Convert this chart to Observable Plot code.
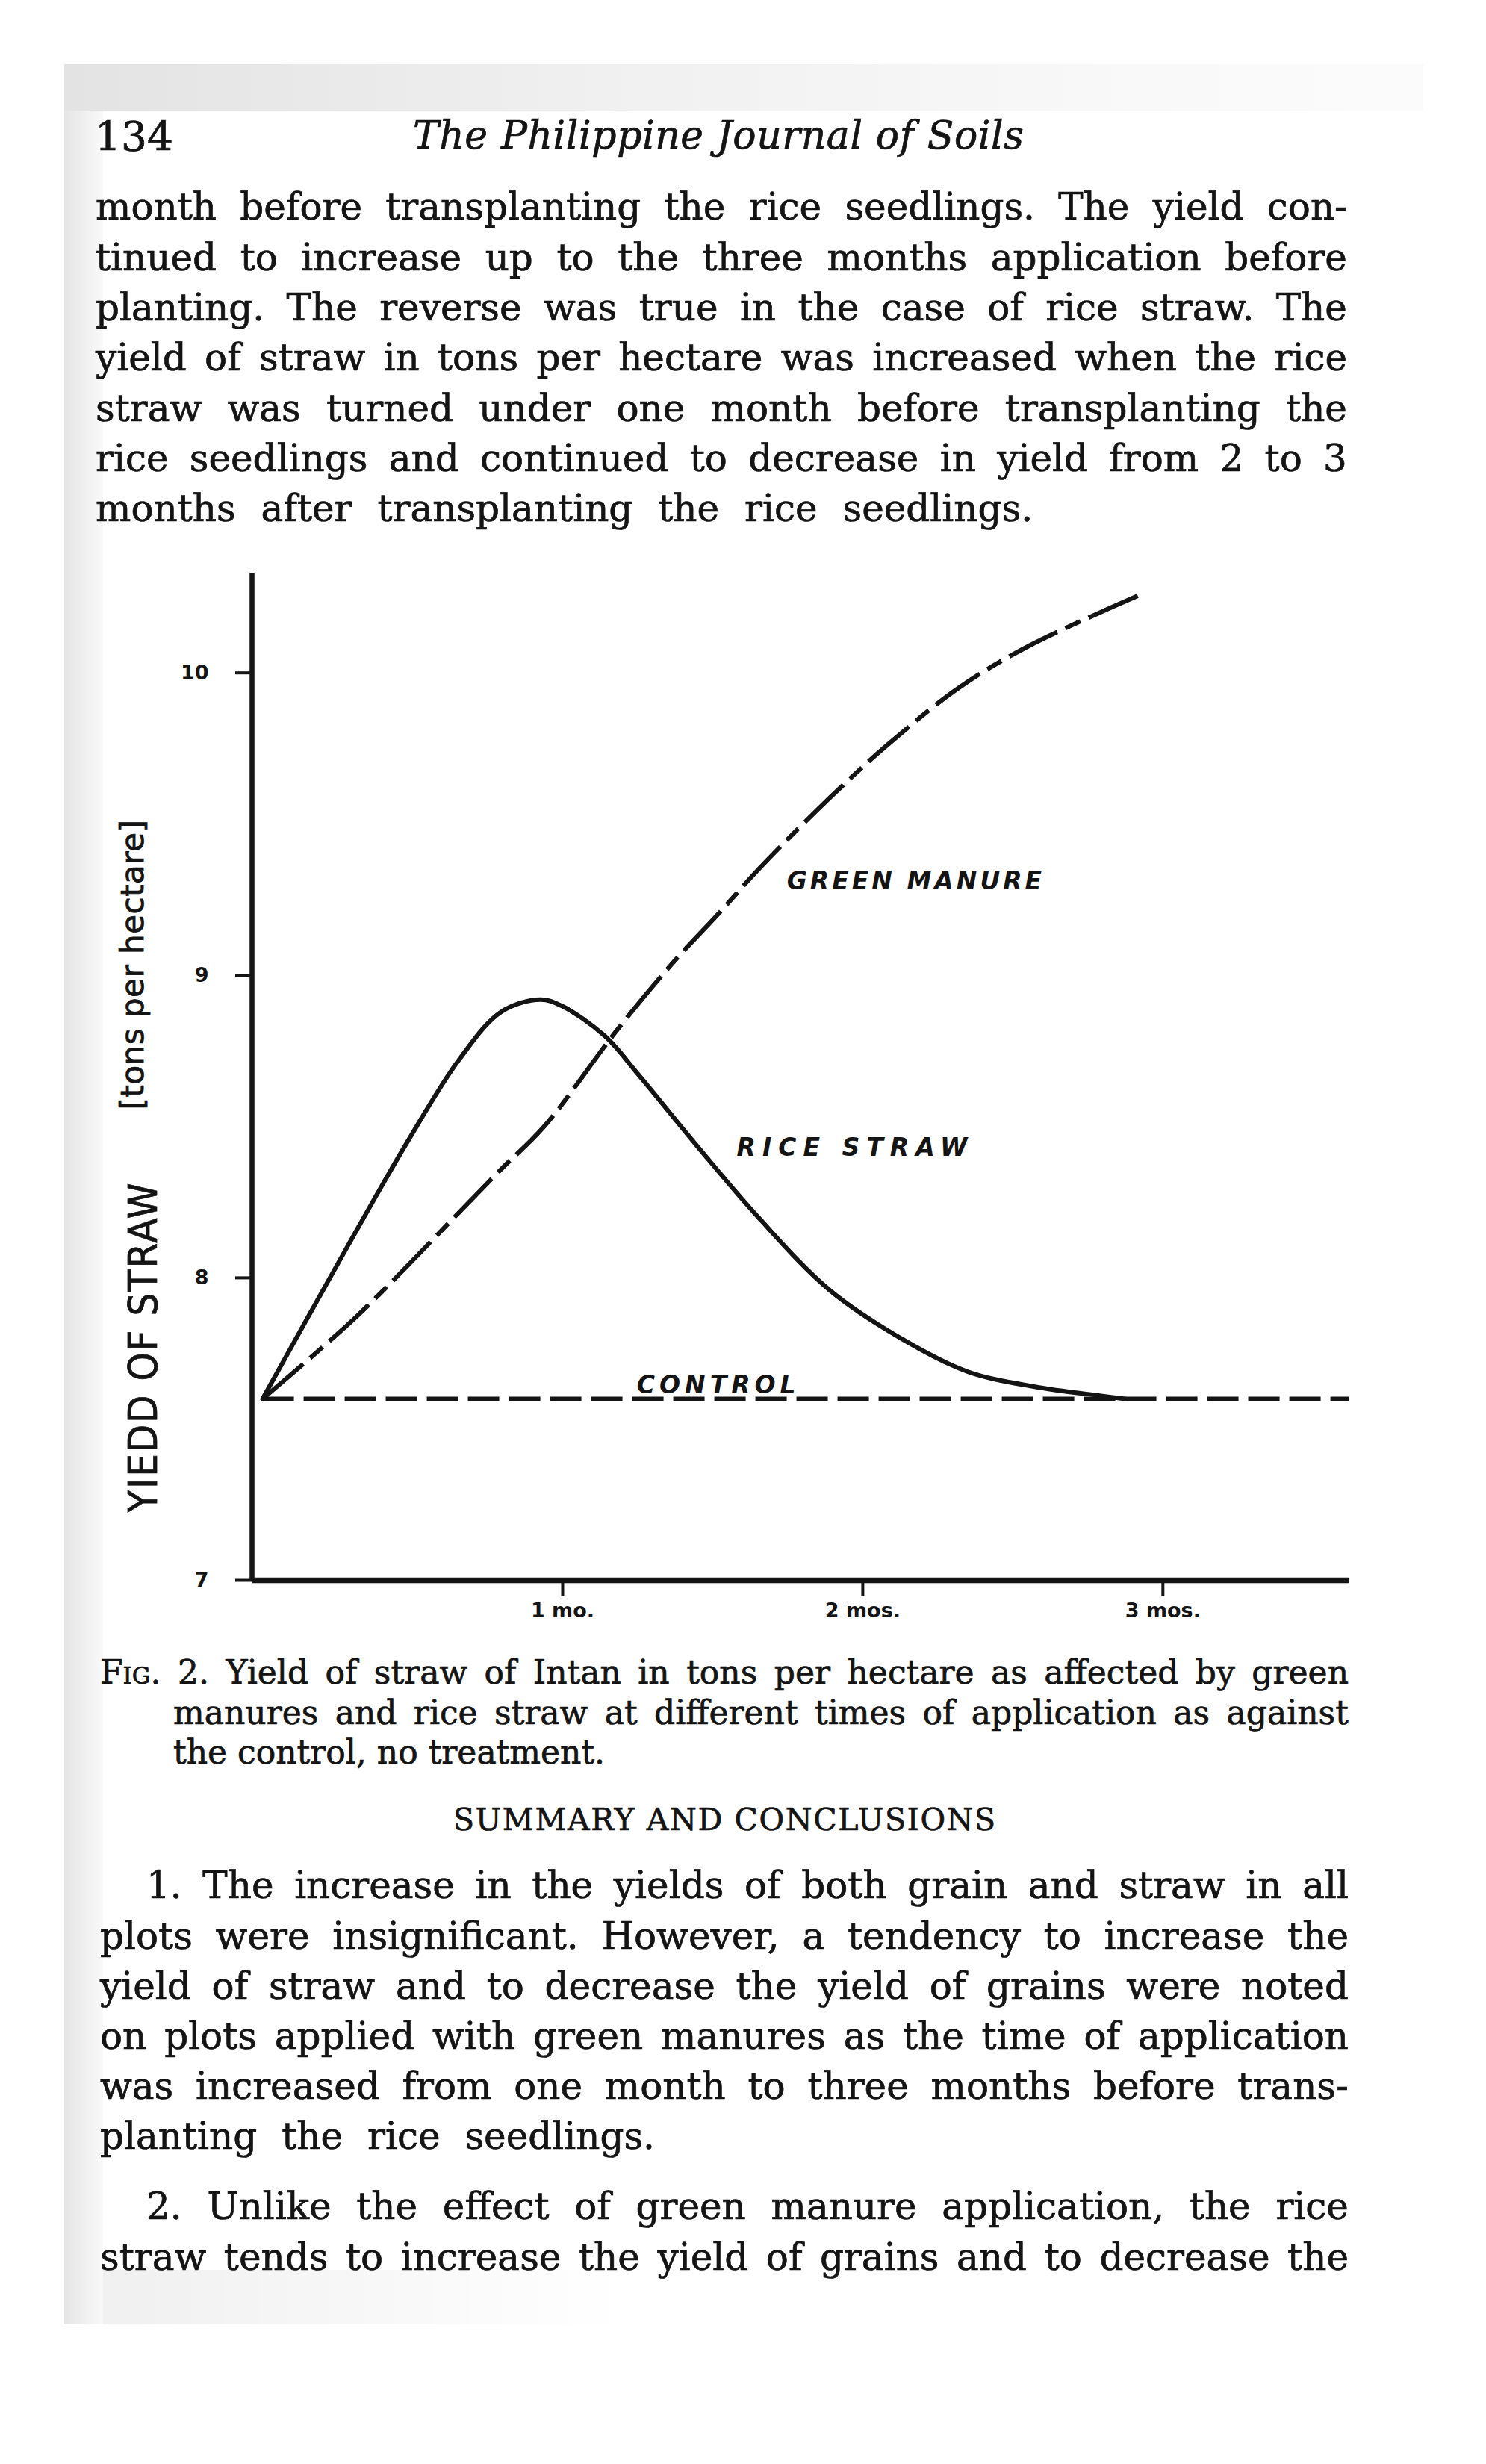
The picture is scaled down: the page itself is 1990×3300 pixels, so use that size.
<!DOCTYPE html>
<html>
<head>
<meta charset="utf-8">
<script src="https://cdn.jsdelivr.net/npm/d3@7"></script>
<script src="https://cdn.jsdelivr.net/npm/@observablehq/plot@0.6"></script>
<style>
  html, body { margin: 0; padding: 0; background: #ffffff; }
  body { width: 1990px; height: 3300px; position: relative; overflow: hidden;
         font-family: "DejaVu Serif", "Liberation Serif", serif; color: #141414; }
  .tone { position: absolute; pointer-events: none; }
  .ln { position: absolute; white-space: pre; -webkit-text-stroke: 0.7px #141414; }
  .sc { font-variant: small-caps; }
  .rot { position: absolute; text-align: center; white-space: pre;
         font-family: "DejaVu Sans", sans-serif; color: #141414; transform-origin: 50% 50%;
         -webkit-text-stroke: 0.8px #141414; }
  #chart { position: absolute; left: 0; top: 700px; }
</style>
</head>
<body>
<div class="tone" style="left:86px;top:86px;width:1820px;height:62px;background:linear-gradient(to right, rgba(0,0,0,0.11), rgba(0,0,0,0.06) 40%, rgba(0,0,0,0.025) 80%, rgba(0,0,0,0.015));"></div>
<div class="tone" style="left:86px;top:148px;width:52px;height:2965px;background:linear-gradient(to right, rgba(0,0,0,0.10), rgba(0,0,0,0.025));"></div>
<div class="tone" style="left:138px;top:3040px;width:700px;height:73px;background:linear-gradient(to right, rgba(0,0,0,0.06), rgba(0,0,0,0.0));"></div>

<div class="ln" style="left:127px;top:150px;font-size:55px;line-height:66px;">134</div>
<div class="ln" style="left:553px;top:148px;font-size:52px;line-height:66px;font-style:italic;letter-spacing:0.6px;">The Philippine Journal of Soils</div>
<div class="rot" id="ylab" style="left:-68px;top:1774px;width:520px;height:60px;line-height:60px;font-size:54px;transform:rotate(-90deg) scaleX(0.9);letter-spacing:2px;">YIEDD OF STRAW</div>
<div class="rot" id="ysub" style="left:-72px;top:1266px;width:500px;height:52px;line-height:52px;font-size:42px;transform:rotate(-90deg);letter-spacing:0.5px;">[tons per hectare]</div>
<div id="chart"></div>
<script>
// ---- chart data ----
const riceMonths   = [0, 0.281, 0.483, 0.654, 0.796, 0.926, 0.995, 1.140, 1.254, 1.453, 1.652, 1.889, 2.127, 2.349, 2.573, 2.794, 2.874];
const riceYield    = [7.60, 8.10, 8.45, 8.72, 8.88, 8.92, 8.90, 8.80, 8.67, 8.43, 8.20, 7.96, 7.80, 7.69, 7.64, 7.61, 7.60];
const greenMonths  = [0, 0.311, 0.639, 0.796, 0.938, 1.182, 1.366, 1.525, 1.652, 1.841, 1.968, 2.080, 2.319, 2.555, 2.929];
const greenYield   = [7.60, 7.87, 8.20, 8.36, 8.50, 8.82, 9.04, 9.21, 9.35, 9.54, 9.66, 9.76, 9.95, 10.09, 10.26];
const controlMonths = [0, 3.62];
const controlYield  = [7.60, 7.60];
const yTicks = [7, 8, 9, 10];
const yTickLabels = ["7", "8", "9", "10"];
const xTicks = [1, 2, 3];
const xTickLabels = ["1 mo.", "2 mos.", "3 mos."];
const seriesLabels = ["GREEN MANURE", "RICE STRAW", "CONTROL"];
const labelMonths  = [1.747, 1.58, 1.247];
const labelYields  = [9.31, 8.43, 7.645];

// ---- page text ----
const para1 = [
  "month before transplanting the rice seedlings.  The yield con-",
  "tinued to increase up to the three months application before",
  "planting.  The reverse was true in the case of rice straw.  The",
  "yield of straw in tons per hectare was increased when the rice",
  "straw was turned under one month before transplanting the",
  "rice seedlings and continued to decrease in yield from 2 to 3",
  "months after transplanting the rice seedlings."
];
const caption = [
  "Fig. 2. Yield of straw of Intan in tons per hectare as affected by green",
  "manures and rice straw at different times of application as against",
  "the control, no treatment."
];
const summary1 = [
  "1. The increase in the yields of both grain and straw in all",
  "plots were insignificant.  However, a tendency to increase the",
  "yield of straw and to decrease the yield of grains were noted",
  "on plots applied with green manures as the time of application",
  "was increased from one month to three months before trans-",
  "planting the rice seedlings."
];
const summary2 = [
  "2. Unlike the effect of green manure application, the rice",
  "straw tends to increase the yield of grains and to decrease the"
];

function block(lines, o) {
  lines.forEach((t, i) => {
    const d = document.createElement("div");
    d.className = "ln";
    const left = (o.lefts && o.lefts[i] != null) ? o.lefts[i] : o.left;
    d.style.left = left + "px";
    d.style.top = (o.top + i * o.step - o.step / 2) + "px";
    d.style.height = o.step + "px";
    d.style.lineHeight = o.step + "px";
    d.style.fontSize = o.size + "px";
    if (o.spacing) d.style.letterSpacing = o.spacing + "px";
    const justify = (i < lines.length - 1) || o.justifyLast;
    const parts = justify ? t.split(/\s+/) : t.split(/(\s+)/);
    if (justify) {
      d.style.width = (o.right - left) + "px";
      d.style.display = "flex";
      d.style.justifyContent = "space-between";
    } else if (o.lastWordSpacing) {
      d.style.wordSpacing = o.lastWordSpacing + "px";
    }
    parts.forEach(w => {
      const s = document.createElement("span");
      s.textContent = /^\s+$/.test(w) ? " " : w;
      if (w === "Fig.") s.className = "sc";
      d.appendChild(s);
    });
    document.body.appendChild(d);
  });
}

block(para1,    {left: 128, right: 1804, top: 278,  step: 67.3, size: 50, lastWordSpacing: 18});
block(caption,  {left: 134, lefts: [134, 232, 232], right: 1806, top: 2240, step: 53.5, size: 44});
block(["SUMMARY AND CONCLUSIONS"], {left: 607, right: 1334, top: 2437, step: 60, size: 41, spacing: 1.6});
block(summary1, {left: 134, lefts: [196], right: 1806, top: 2526, step: 67.2, size: 50, lastWordSpacing: 17});
block(summary2, {left: 134, lefts: [196], right: 1806, top: 2955, step: 68, size: 50, justifyLast: true});

// ---- chart ----
const INK = "#141414";
const rice = riceMonths.map((m, i) => ({month: m, yield: riceYield[i]}));
const green = greenMonths.map((m, i) => ({month: m, yield: greenYield[i]}));
const control = controlMonths.map((m, i) => ({month: m, yield: controlYield[i]}));
const labels = seriesLabels.map((s, i) => ({name: s, month: labelMonths[i], yield: labelYields[i]}));

const xDomain = [-0.035, 3.62];
const yDomain = [7, 10.33];

const chart = Plot.plot({
  width: 1990,
  height: 1520,
  marginLeft: 337,
  marginRight: 184,
  marginTop: 67,
  marginBottom: 104,
  x: {domain: xDomain},
  y: {domain: yDomain},
  style: {background: "transparent", color: INK, fontFamily: "DejaVu Sans, sans-serif"},
  marks: [
    Plot.ruleX([xDomain[0]], {y1: yDomain[0], y2: yDomain[1], stroke: INK, strokeWidth: 6.5}),
    Plot.ruleY([yDomain[0]], {x1: xDomain[0], x2: xDomain[1], stroke: INK, strokeWidth: 7.5}),
    Plot.axisY(yTicks, {tickSize: 22, tickPadding: 36, strokeWidth: 4, fontSize: 27, fontWeight: "bold", label: null,
      tickFormat: d => yTickLabels[yTicks.indexOf(d)]}),
    Plot.axisX(xTicks, {tickSize: 22, tickPadding: 8, strokeWidth: 4, fontSize: 27, fontWeight: "bold", label: null,
      tickFormat: d => xTickLabels[xTicks.indexOf(d)]}),
    Plot.line(control, {x: "month", y: "yield", stroke: INK, strokeWidth: 6, strokeDasharray: "42,13", strokeLinecap: "butt"}),
    Plot.line(green, {x: "month", y: "yield", stroke: INK, strokeWidth: 6, curve: "catmull-rom", strokeDasharray: "72,12,22,12", strokeLinecap: "butt"}),
    Plot.line(rice, {x: "month", y: "yield", stroke: INK, strokeWidth: 6, curve: "catmull-rom"}),
    Plot.text(labels, {x: "month", y: "yield", text: "name", textAnchor: "start", fontSize: 33,
      fontStyle: "italic", fontWeight: "bold", fill: INK})
  ]
});
document.getElementById("chart").appendChild(chart);
const labelSpacing = {"GREEN MANURE": "4px", "RICE STRAW": "9px", "CONTROL": "6px"};
chart.querySelectorAll('g[aria-label="text"] text').forEach(t => {
  t.style.letterSpacing = labelSpacing[t.textContent] || "6px";
});
</script>
</body>
</html>
